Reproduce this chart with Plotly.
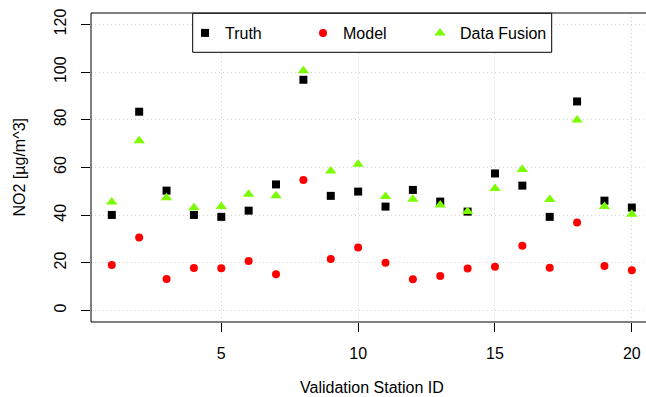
import plotly.graph_objects as go

# Validation stations and NO2 concentrations (µg/m^3)
station = list(range(1, 21))
truth = [40.1, 83.4, 50.3, 40.1, 39.3, 41.9, 52.9, 96.8, 48.1, 49.9,
         43.6, 50.6, 45.7, 41.5, 57.5, 52.4, 39.3, 87.7, 46.1, 43.2]
model = [19.1, 30.6, 13.2, 17.9, 17.7, 20.8, 15.2, 54.8, 21.6, 26.4,
         20.1, 13.1, 14.5, 17.6, 18.4, 27.2, 18.0, 36.9, 18.7, 16.9]
fusion = [45.5, 71.2, 47.3, 43.1, 43.6, 48.8, 48.1, 100.6, 58.5, 61.4,
          47.8, 46.7, 44.3, 41.5, 51.2, 59.2, 46.6, 79.9, 43.6, 40.4]

x_ticks = [5, 10, 15, 20]
y_ticks = [0, 20, 40, 60, 80, 100, 120]

FONT = "Arial, Liberation Sans, sans-serif"
W, H = 646, 397
L, R, T, B = 91, 0, 13, 75
pw, ph = W - L - R, H - T - B

def px_x(p):
    return (p - L) / pw

def px_y(p):
    return (H - B - p) / ph

fig = go.Figure()
fig.add_trace(go.Scatter(x=station, y=truth, mode="markers", name="Truth",
                         legend="legend",
                         marker=dict(symbol="square", size=8, color="black")))
fig.add_trace(go.Scatter(x=station, y=model, mode="markers", name="Model",
                         legend="legend2",
                         marker=dict(symbol="circle", size=8, color="red")))
fig.add_trace(go.Scatter(x=station, y=fusion, mode="markers", name="Data Fusion",
                         legend="legend3",
                         marker=dict(symbol="triangle-up", size=10, color="#7CFC00")))

# plot frame (right side runs past the page edge)
fig.add_shape(type="rect", xref="paper", yref="paper",
              x0=0, x1=1.03, y0=0, y1=1,
              line=dict(color="black", width=1), layer="above")
# legend frame
fig.add_shape(type="rect", xref="paper", yref="paper",
              x0=px_x(192.7), x1=px_x(551.7), y0=px_y(52.3), y1=px_y(13.3),
              line=dict(color="black", width=1), fillcolor="white", layer="above")

fig.add_annotation(text="Validation Station ID", xref="paper", yref="paper",
                   x=px_x(371.9), y=px_y(388), xanchor="center", yanchor="middle",
                   showarrow=False, font=dict(family=FONT, size=16, color="black"))
fig.add_annotation(text="NO2 [µg/m^3]", xref="paper", yref="paper",
                   x=px_x(19), y=0.5, xanchor="center", yanchor="middle",
                   textangle=-90, showarrow=False,
                   font=dict(family=FONT, size=16, color="black"))

def legend_at(left_px):
    return dict(orientation="h", x=px_x(left_px), xanchor="left",
                y=px_y(33), yanchor="middle", bgcolor="rgba(0,0,0,0)",
                borderwidth=0, font=dict(family=FONT, size=16, color="black"))

fig.update_layout(
    width=W, height=H,
    margin=dict(l=L, r=R, t=T, b=B, pad=0, autoexpand=False),
    paper_bgcolor="white", plot_bgcolor="white",
    font=dict(family=FONT, size=16, color="black"),
    showlegend=True,
    legend=legend_at(185),
    legend2=legend_at(303),
    legend3=legend_at(420),
    xaxis=dict(range=[0.24, 0.24 + pw / 27.37], tickvals=x_ticks,
               ticks="outside", ticklen=9, tickcolor="black", tickwidth=1,
               showline=False, zeroline=False,
               showgrid=True, gridcolor="#D3D3D3", griddash="1px,3px", gridwidth=1,
               ticklabelstandoff=8,
               tickfont=dict(family=FONT, size=16, color="black")),
    yaxis=dict(range=[-4.8, 124.8], tickvals=y_ticks,
               ticks="outside", ticklen=9, tickcolor="black", tickwidth=1,
               showline=False, zeroline=False, tickangle=-90,
               showgrid=True, gridcolor="#D3D3D3", griddash="1px,3px", gridwidth=1,
               ticklabelstandoff=9,
               tickfont=dict(family=FONT, size=16, color="black")),
)

fig.write_html("out.html")
